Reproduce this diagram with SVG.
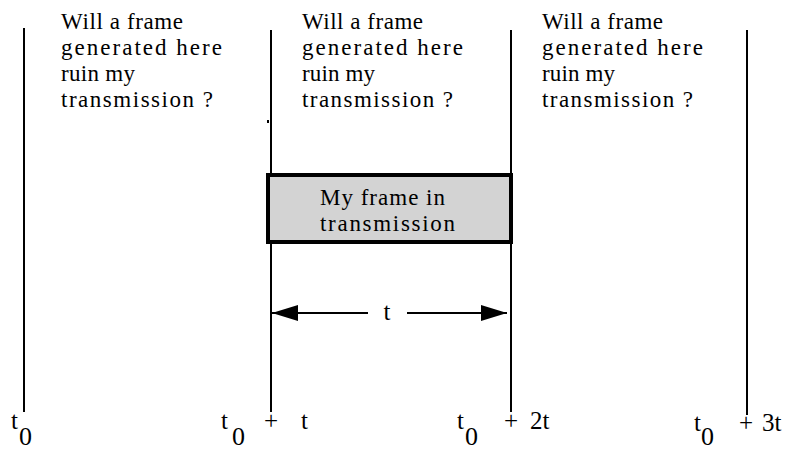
<svg xmlns="http://www.w3.org/2000/svg" width="790" height="451" viewBox="0 0 790 451">
<style>
.ln{stroke:#000;stroke-width:2;fill:none}
</style>
<defs>
<marker id="ah" markerWidth="26" markerHeight="16" refX="26" refY="8" orient="auto-start-reverse" markerUnits="userSpaceOnUse">
<path d="M0,0 L26,8 L0,16 Z" fill="#000"/>
</marker>
</defs>
<rect width="790" height="451" fill="#fff"/>
<g id="timelines">
<line class="ln" x1="24" y1="28" x2="24" y2="412"/>
<line class="ln" x1="271" y1="30" x2="271" y2="412"/>
<line class="ln" x1="511" y1="30" x2="511" y2="412"/>
<line class="ln" x1="747" y1="30" x2="747" y2="415"/>
<rect x="267" y="120" width="2" height="3" fill="#000"/>
</g>
<g font-family="Liberation Serif, serif" font-size="23" fill="#000">
<g id="q1">
<text x="61" y="29" textLength="122" lengthAdjust="spacing">Will a frame</text>
<text x="61" y="55" textLength="161" lengthAdjust="spacing">generated here</text>
<text x="61" y="81" textLength="74" lengthAdjust="spacing">ruin my</text>
<text x="61" y="107" textLength="152" lengthAdjust="spacing">transmission ?</text>
</g>
<g id="q2">
<text x="302" y="29" textLength="121" lengthAdjust="spacing">Will a frame</text>
<text x="302" y="55" textLength="161" lengthAdjust="spacing">generated here</text>
<text x="302" y="81" textLength="73" lengthAdjust="spacing">ruin my</text>
<text x="302" y="107" textLength="151" lengthAdjust="spacing">transmission ?</text>
</g>
<g id="q3">
<text x="542" y="29" textLength="121" lengthAdjust="spacing">Will a frame</text>
<text x="542" y="55" textLength="161" lengthAdjust="spacing">generated here</text>
<text x="542" y="81" textLength="73" lengthAdjust="spacing">ruin my</text>
<text x="542" y="107" textLength="151" lengthAdjust="spacing">transmission ?</text>
</g>
<g id="frame">
<rect x="268" y="175" width="243" height="67" fill="#d3d3d3" stroke="#000" stroke-width="4"/>
<text x="320" y="205" textLength="125" lengthAdjust="spacing">My frame in</text>
<text x="320" y="231" textLength="135" lengthAdjust="spacing">transmission</text>
</g>
<g id="connectors">
<line class="ln" x1="368" y1="313" x2="272" y2="313" marker-end="url(#ah)"/>
<line class="ln" x1="407" y1="313" x2="507" y2="313" marker-end="url(#ah)"/>
</g>
<g id="duration" font-size="25">
<text x="387" y="320" text-anchor="middle">t</text>
</g>
<g font-size="25">
<g id="label0">
<text x="11" y="429">t</text>
<text x="19" y="445" font-size="26">0</text>
</g>
<g id="label1">
<text x="221" y="429">t</text>
<text x="232" y="445" font-size="26">0</text>
<text x="264" y="429">+</text>
<text x="301" y="429">t</text>
</g>
<g id="label2">
<text x="457" y="429">t</text>
<text x="465" y="445" font-size="26">0</text>
<text x="504" y="429">+</text>
<text x="530" y="429">2t</text>
</g>
<g id="label3">
<text x="694" y="431">t</text>
<text x="701" y="445" font-size="26">0</text>
<text x="739" y="431">+</text>
<text x="762" y="431">3t</text>
</g>
</g>
</g>
</svg>
